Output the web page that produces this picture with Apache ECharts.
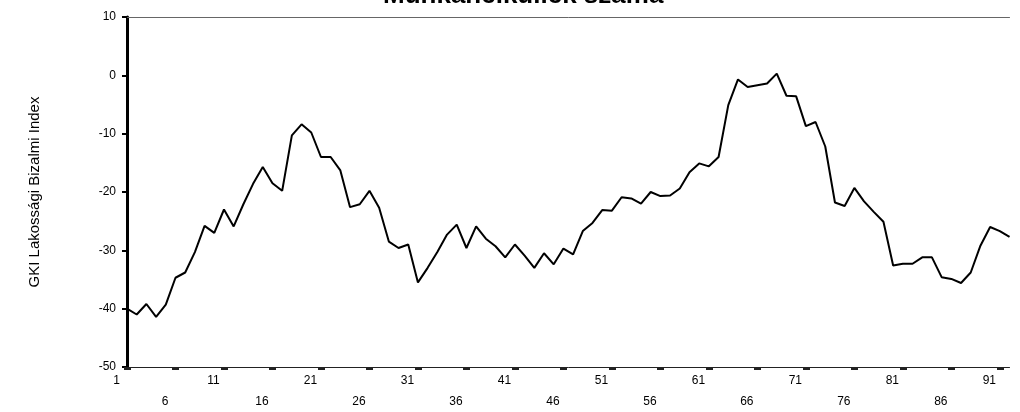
<!DOCTYPE html>
<html><head><meta charset="utf-8">
<script src="https://cdn.jsdelivr.net/npm/echarts@6/dist/echarts.min.js"></script>
<style>html,body{margin:0;padding:0;background:#fff}#c{width:1020px;height:412px}</style>
</head><body><div id="c"></div>
<script>
const titleText = 'Munkanélküliek száma';
const yAxisName = 'GKI Lakossági Bizalmi Index';
const categories = [1,2,3,4,5,6,7,8,9,10,11,12,13,14,15,16,17,18,19,20,21,22,23,24,25,26,27,28,29,30,31,32,33,34,35,36,37,38,39,40,41,42,43,44,45,46,47,48,49,50,51,52,53,54,55,56,57,58,59,60,61,62,63,64,65,66,67,68,69,70,71,72,73,74,75,76,77,78,79,80,81,82,83,84,85,86,87,88,89,90,91,92];
const values = [-40.0,-41.0,-39.2,-41.4,-39.3,-34.7,-33.8,-30.3,-25.8,-27.0,
  -23.0,-25.9,-22.1,-18.6,-15.7,-18.5,-19.8,-10.3,-8.4,-9.8,
  -14.0,-14.0,-16.3,-22.6,-22.1,-19.8,-22.7,-28.5,-29.6,-29.0,
  -35.5,-33.0,-30.3,-27.3,-25.6,-29.6,-25.9,-28.0,-29.3,-31.2,
  -29.0,-30.9,-33.0,-30.5,-32.4,-29.7,-30.7,-26.7,-25.3,-23.1,
  -23.2,-20.9,-21.1,-22.0,-20.0,-20.7,-20.6,-19.4,-16.6,-15.1,
  -15.6,-14.0,-5.1,-0.7,-2.0,-1.7,-1.4,0.3,-3.5,-3.6,
  -8.7,-8.0,-12.2,-21.8,-22.4,-19.3,-21.6,-23.4,-25.1,-32.6,
  -32.3,-32.3,-31.2,-31.2,-34.6,-34.9,-35.6,-33.8,-29.2,-26.0,
  -26.7,-27.7];
const yMin = -50, yMax = 10, yStep = 10;
const labelEvery = 5;

const chart = echarts.init(document.getElementById('c'), null, {renderer: 'canvas'});
const font = '"Liberation Sans", Arial, sans-serif';
chart.setOption({
  animation: false,
  backgroundColor: '#fff',
  title: {
    text: titleText, left: 378, top: -22,
    textStyle: {fontFamily: font, fontSize: 26, fontWeight: 'bold', color: '#000'}
  },
  grid: {left: 127, right: 4, top: 17, bottom: 45, containLabel: false},
  xAxis: [{
    type: 'category', data: categories, boundaryGap: false, position: 'bottom',
    axisLine: {onZero: false, lineStyle: {color: '#222', width: 1}},
    axisTick: {interval: labelEvery - 1, length: 3, lineStyle: {color: '#222', width: 7}},
    axisLabel: {
      interval: labelEvery - 1, margin: 3, fontFamily: font, fontSize: 12, color: '#000',
      lineHeight: 21, padding: [0, 21, 0, 0],
      formatter: function (v, i) { return (Math.round(i / labelEvery) % 2 === 1) ? '\n' + v : String(v); }
    },
    splitLine: {show: false}
  }, {
    type: 'category', data: categories, boundaryGap: false, position: 'top',
    axisLine: {onZero: false, lineStyle: {color: '#666', width: 1}},
    axisTick: {show: false}, axisLabel: {show: false}, splitLine: {show: false}
  }],
  yAxis: {
    type: 'value', min: yMin, max: yMax, interval: yStep,
    name: yAxisName, nameLocation: 'middle', nameGap: 85, nameRotate: 90,
    nameTextStyle: {fontFamily: font, fontSize: 15, color: '#000'},
    axisLine: {show: true, onZero: false, lineStyle: {color: '#000', width: 3}},
    axisTick: {show: true, length: 5, lineStyle: {color: '#000', width: 2}},
    axisLabel: {fontFamily: font, fontSize: 12, color: '#000', margin: 11},
    splitLine: {show: false}
  },
  series: [{
    type: 'line', data: values, xAxisIndex: 0, showSymbol: false, symbol: 'none',
    lineStyle: {color: '#000', width: 2}
  }]
});
</script>
</body></html>
